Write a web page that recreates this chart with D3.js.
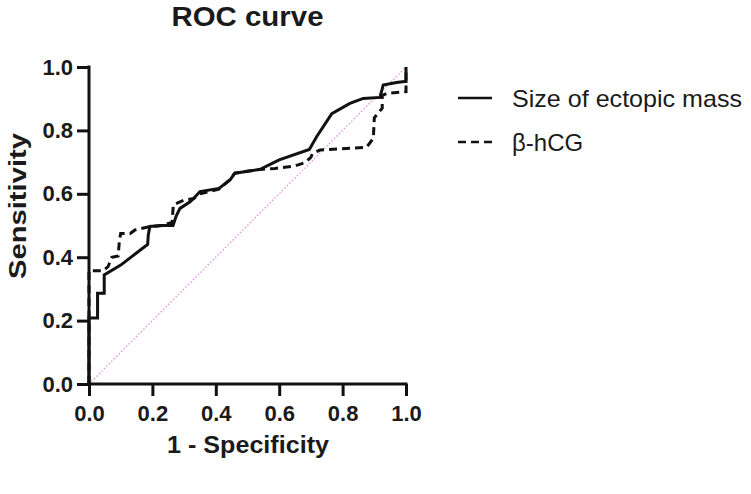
<!DOCTYPE html>
<html>
<head>
<meta charset="utf-8">
<script src="https://cdn.jsdelivr.net/npm/d3@7"></script>
<style>
  html, body { margin: 0; padding: 0; background: #fff; }
  svg { display: block; }
  text { font-family: "Liberation Sans", Arial, Helvetica, sans-serif; fill: #1a1a1a; }
</style>
</head>
<body>
<svg id="chart" width="751" height="494"></svg>
<script>
// ---- Data ----
const title = "ROC curve";
const xLabel = "1 - Specificity";
const yLabel = "Sensitivity";
const seriesNames = ["Size of ectopic mass", "β-hCG"];
const tickValues = [0, 0.2, 0.4, 0.6, 0.8, 1.0];

const sizeFpr = [0, 0, 0.027, 0.027, 0.048, 0.048, 0.10, 0.165, 0.185, 0.187, 0.192, 0.23, 0.265, 0.275, 0.287, 0.319, 0.33, 0.35, 0.41, 0.445, 0.46, 0.54, 0.60, 0.695, 0.718, 0.766, 0.823, 0.865, 0.918, 0.928, 0.97, 0.995, 1.0, 1.0];
const sizeTpr = [0, 0.208, 0.208, 0.286, 0.286, 0.344, 0.375, 0.425, 0.44, 0.47, 0.497, 0.50, 0.50, 0.53, 0.554, 0.575, 0.585, 0.607, 0.617, 0.644, 0.665, 0.677, 0.707, 0.74, 0.78, 0.853, 0.885, 0.901, 0.904, 0.943, 0.951, 0.954, 0.954, 1.0];

const hcgFpr = [0, 0, 0.045, 0.06, 0.072, 0.092, 0.096, 0.10, 0.13, 0.145, 0.19, 0.23, 0.262, 0.266, 0.30, 0.33, 0.35, 0.41, 0.445, 0.46, 0.54, 0.587, 0.65, 0.68, 0.70, 0.705, 0.729, 0.876, 0.897, 0.90, 0.925, 0.925, 0.94, 1.0, 1.0];
const hcgTpr = [0, 0.357, 0.357, 0.37, 0.40, 0.404, 0.454, 0.475, 0.475, 0.486, 0.496, 0.50, 0.51, 0.565, 0.58, 0.585, 0.60, 0.615, 0.645, 0.665, 0.677, 0.68, 0.688, 0.698, 0.715, 0.727, 0.738, 0.747, 0.775, 0.84, 0.87, 0.91, 0.917, 0.922, 1.0];

const refLine = [0, 1];

// ---- Layout ----
const svg = d3.select("#chart");
const x = d3.scaleLinear().domain([0, 1]).range([89, 406]);
const y = d3.scaleLinear().domain([0, 1]).range([384, 67]);

// reference diagonal
svg.append("line")
  .attr("x1", x(refLine[0])).attr("y1", y(refLine[0]))
  .attr("x2", x(refLine[1])).attr("y2", y(refLine[1]))
  .attr("stroke", "#e58ad9").attr("stroke-width", 1.2)
  .attr("stroke-dasharray", "1.5,2");

const line = d3.line().x(d => x(d[0])).y(d => y(d[1]));

const sizeData = sizeFpr.map((v, i) => [v, sizeTpr[i]]);
const hcgData = hcgFpr.map((v, i) => [v, hcgTpr[i]]);

svg.append("path").datum(hcgData)
  .attr("d", line).attr("fill", "none")
  .attr("stroke", "#111").attr("stroke-width", 3)
  .attr("stroke-dasharray", "8,5");

svg.append("path").datum(sizeData)
  .attr("d", line).attr("fill", "none")
  .attr("stroke", "#111").attr("stroke-width", 3)
  .attr("stroke-linejoin", "miter");

// axes
const fmt = d3.format(".1f");
const xAxis = svg.append("g").attr("transform", `translate(0,${y(0)})`)
  .call(d3.axisBottom(x).tickValues(tickValues).tickFormat(fmt).tickSize(12).tickSizeOuter(0).tickPadding(9));
const yAxis = svg.append("g").attr("transform", `translate(${x(0)},0)`)
  .call(d3.axisLeft(y).tickValues(tickValues).tickFormat(fmt).tickSize(12).tickSizeOuter(0).tickPadding(4));

[xAxis, yAxis].forEach(g => {
  g.select(".domain").attr("stroke", "#111").attr("stroke-width", 3);
  g.selectAll(".tick line").attr("stroke", "#111").attr("stroke-width", 3);
  g.selectAll(".tick text").attr("fill", "#1a1a1a")
    .style("font-family", '"Liberation Sans", Arial, sans-serif')
    .style("font-size", "22px").style("font-weight", "bold");
});
// extend domains so corners are square
xAxis.select(".domain").attr("d", `M${x(0) - 1.5},0H${x(1) + 1.5}`);
yAxis.select(".domain").attr("d", `M0,${y(0) + 1.5}V${y(1) - 1.5}`);

// title
svg.append("text").attr("x", 247.5).attr("y", 26)
  .attr("text-anchor", "middle").style("font-size", "27px").style("font-weight", "bold")
  .attr("textLength", 152).attr("lengthAdjust", "spacingAndGlyphs")
  .text(title);

// axis titles
svg.append("text").attr("x", 248).attr("y", 453)
  .attr("text-anchor", "middle").style("font-size", "24px").style("font-weight", "bold")
  .attr("textLength", 162).attr("lengthAdjust", "spacingAndGlyphs")
  .text(xLabel);

svg.append("text").attr("transform", "translate(26,206) rotate(-90)")
  .attr("text-anchor", "middle").style("font-size", "24px").style("font-weight", "bold")
  .attr("textLength", 146).attr("lengthAdjust", "spacingAndGlyphs")
  .text(yLabel);

// legend
const legend = svg.append("g");
const legendY = [98, 142];
const dashes = [null, "8,5"];
const legendWidths = [230, null];
seriesNames.forEach((name, i) => {
  legend.append("line")
    .attr("x1", 458).attr("x2", 492).attr("y1", legendY[i]).attr("y2", legendY[i])
    .attr("stroke", "#111").attr("stroke-width", 2.5)
    .attr("stroke-dasharray", dashes[i]);
  const t = legend.append("text").attr("x", 512).attr("y", legendY[i] + 9)
    .style("font-size", "24px")
    .text(name);
  if (legendWidths[i]) t.attr("textLength", legendWidths[i]).attr("lengthAdjust", "spacingAndGlyphs");
});
</script>
</body>
</html>
